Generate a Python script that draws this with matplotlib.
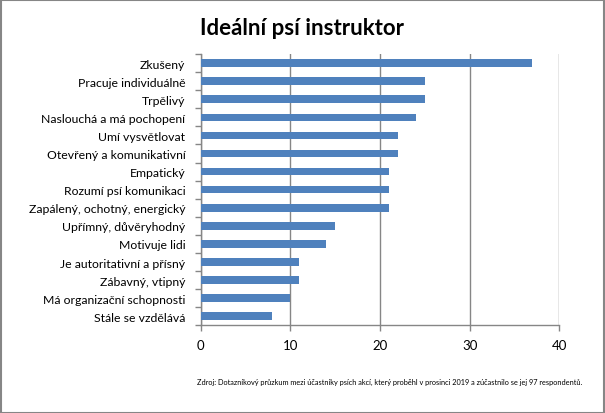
import matplotlib.pyplot as plt
from matplotlib.patches import Rectangle

# data
categories = [
    "Zkušený",
    "Pracuje individuálně",
    "Trpělivý",
    "Naslouchá a má pochopení",
    "Umí vysvětlovat",
    "Otevřený a komunikativní",
    "Empatický",
    "Rozumí psí komunikaci",
    "Zapálený, ochotný, energický",
    "Upřímný, důvěryhodný",
    "Motivuje lidi",
    "Je autoritativní a přísný",
    "Zábavný, vtipný",
    "Má organizační schopnosti",
    "Stále se vzdělává",
]
values = [37, 25, 25, 24, 22, 22, 21, 21, 21, 15, 14, 11, 11, 10, 8]
xticks = [0, 10, 20, 30, 40]
title = "Ideální psí instruktor"
source = ("Zdroj: Dotazníkový průzkum mezi účastníky psích akcí, který proběhl "
          "v prosinci 2019 a zúčastnilo se jej 97 respondentů.")

plt.rcParams['font.family'] = ['Lato', 'DejaVu Sans']
grey = '#868686'

fig = plt.figure(figsize=(6.05, 4.14), dpi=100)
ax = fig.add_axes([0.3317, 0.2118, 0.5928, 0.6553])

ypos = list(range(len(categories)))
ax.barh(ypos, values, height=0.42, color='#4f81bd', zorder=3)
ax.set_ylim(len(categories) - 0.5, -0.5)
ax.set_xlim(0, 40)

ax.set_xticks(xticks)
ax.set_xticklabels([str(t) for t in xticks], fontsize=9.5)
ax.set_yticks(ypos)
ax.set_yticklabels(categories, fontsize=8.8)
ax.set_yticks([y + 0.5 for y in range(-1, len(categories))], minor=True)
ax.tick_params(axis='y', which='major', length=0, pad=11)
ax.tick_params(axis='y', which='minor', length=4, color=grey, width=1)
ax.tick_params(axis='x', length=4, color=grey, width=1, pad=6)

ax.grid(axis='x', color=grey, linewidth=1, zorder=0)
for side in ['top', 'right']:
    ax.spines[side].set_visible(False)
for side in ['left', 'bottom']:
    ax.spines[side].set_color(grey)
    ax.spines[side].set_linewidth(1)

fig.text(0.499, 0.932, title, ha='center', va='center', fontsize=16, fontweight='bold')
fig.text(0.326, 0.075, source, ha='left', va='center', fontsize=5.3)

# outer border of the chart area
fig.patches.append(Rectangle((0.001, 0.001), 0.997, 0.997, transform=fig.transFigure,
                             fill=False, edgecolor=grey, linewidth=1.5))

fig.savefig('out.png', dpi=100)
